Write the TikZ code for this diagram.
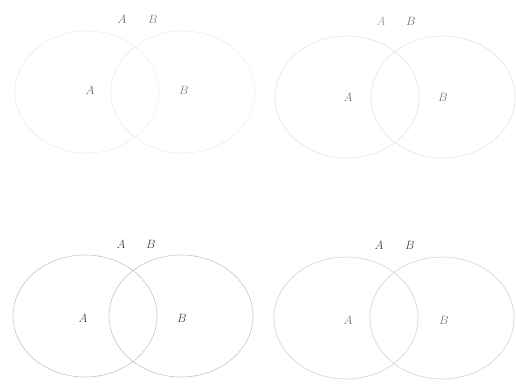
\documentclass[tikz,border=0pt]{standalone}
\begin{document}
\begin{tikzpicture}[x=1pt,y=-1pt,
  setA/.style={draw=gray!45,line width=0.6pt},
  faintset/.style={draw=gray!15,line width=0.6pt},
  lbl/.style={inner sep=0pt,font=\large,text=black!75}]
\useasboundingbox (0,0) rectangle (516,384);
% top-left
\draw[faintset] (87,92) ellipse [x radius=72,y radius=61];
\draw[faintset] (183,92) ellipse [x radius=72,y radius=61];
\node[lbl,text=black!60] (tlA) at (90,90) {$A$};
\node[lbl,text=black!50] (tlB) at (184,90) {$B$};
\node[lbl,text=black!60] (tltA) at (122,19) {$A$};
\node[lbl,text=black!50] (tltB) at (153,19) {$B$};
% top-right
\draw[faintset,draw=gray!22] (347,97) ellipse [x radius=72,y radius=61];
\draw[faintset,draw=gray!22] (443,97) ellipse [x radius=72,y radius=61];
\node[lbl,text=black!55] (trA) at (348,97) {$A$};
\node[lbl,text=black!55] (trB) at (443,97) {$B$};
\node[lbl,text=black!40] (trtA) at (381,21) {$A$};
\node[lbl,text=black!55] (trtB) at (411,21) {$B$};
% bottom-left
\draw[setA] (85,316) ellipse [x radius=72,y radius=61];
\draw[setA] (181,316) ellipse [x radius=72,y radius=61];
\node[lbl] (blA) at (83,318) {$A$};
\node[lbl] (blB) at (182,318) {$B$};
\node[lbl] (bltA) at (121,244) {$A$};
\node[lbl] (bltB) at (151,244) {$B$};
% bottom-right
\draw[setA,draw=gray!35] (346,318) ellipse [x radius=72,y radius=61];
\draw[setA,draw=gray!35] (442,318) ellipse [x radius=72,y radius=61];
\node[lbl,text=black!55] (brA) at (348,320) {$A$};
\node[lbl,text=black!55] (brB) at (444,320) {$B$};
\node[lbl] (brtA) at (379,245) {$A$};
\node[lbl] (brtB) at (410,245) {$B$};
\end{tikzpicture}
\end{document}
